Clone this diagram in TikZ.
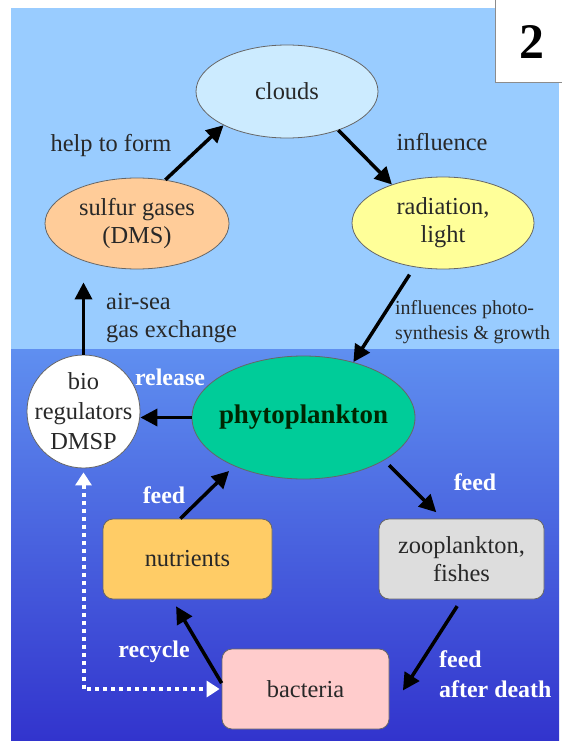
\documentclass[tikz,border=0pt]{standalone}
\usepackage{fontspec}
\setmainfont{Liberation Serif}
\usetikzlibrary{arrows.meta,shapes.geometric,calc}
\definecolor{sky}{RGB}{153,204,255}
\definecolor{seatop}{RGB}{95,143,240}
\definecolor{seabot}{RGB}{50,52,205}
\definecolor{cloudc}{RGB}{204,235,255}
\definecolor{sulfurc}{RGB}{255,204,153}
\definecolor{radc}{RGB}{255,255,153}
\definecolor{phytoc}{RGB}{0,204,153}
\definecolor{nutc}{RGB}{255,204,102}
\definecolor{zooc}{RGB}{221,221,221}
\definecolor{bacc}{RGB}{255,204,204}
\definecolor{inkc}{RGB}{40,40,40}
\begin{document}
\begin{tikzpicture}[x=1bp,y=-1bp,
  bubble/.style={ellipse,draw=black!60,line width=0.8pt,inner sep=0pt,align=center,text=inkc,font=\fontsize{24.5}{28}\selectfont},
  boxnode/.style={rectangle,rounded corners=10bp,draw=black!60,line width=0.8pt,inner sep=0pt,align=center,text=inkc,font=\fontsize{24.5}{28}\selectfont},
  lbl/.style={inner sep=0pt,text=inkc,font=\fontsize{24.5}{28}\selectfont},
  slbl/.style={inner sep=0pt,text=inkc,font=\fontsize{20}{25}\selectfont},
  wlbl/.style={inner sep=0pt,text=white,font=\bfseries\fontsize{24}{30}\selectfont},
  flow/.style={line width=3.5bp,black,-{Triangle[length=17bp,width=17bp]}},
  dots/.style={white,line width=4bp,dash pattern=on 4bp off 4bp,{Triangle[length=13bp,width=16bp]}-{Triangle[length=13bp,width=16bp]}}
]
\useasboundingbox (0,0) rectangle (562,742);
% background
\fill[white] (0,0) rectangle (562,742);
\fill[sky] (11,8) rectangle (559,349);
\shade[top color=seatop,bottom color=seabot] (11,349) rectangle (559,740);
% number box
\fill[white] (495,0) rectangle (562,82);
\draw[black!45,line width=0.8pt] (495,0) -- (495,82) -- (562,82);
\node[inner sep=0pt,font=\bfseries\fontsize{50}{50}\selectfont] (two) at (531.5,42) {2};

% nodes
\node[bubble,fill=cloudc,minimum width=182bp,minimum height=93bp] (clouds) at (287,91.5) {clouds};
\node[bubble,fill=sulfurc,minimum width=184bp,minimum height=91bp] (sulfur) at (137,223.5) {sulfur gases\\(DMS)};
\node[bubble,fill=radc,minimum width=182bp,minimum height=92bp] (rad) at (443,223) {radiation,\\light};
\node[bubble,fill=phytoc,minimum width=223bp,minimum height=123bp,inner sep=-6bp,text=black!85!green,font=\bfseries\fontsize{27}{30}\selectfont] (phyto) at (303.5,417.5) {phytoplankton};
\node[circle,draw=black!60,line width=0.8pt,fill=white,minimum size=113bp,inner sep=-8bp,align=center,text=inkc,font=\fontsize{24.5}{30}\selectfont] (bio) at (83.5,411.5) {bio\\regulators\\DMSP};
\node[boxnode,fill=nutc,minimum width=169bp,minimum height=80bp] (nutrients) at (187.5,559) {nutrients};
\node[boxnode,fill=zooc,minimum width=165bp,minimum height=80bp] (zoo) at (461.5,559) {zooplankton,\\fishes};
\node[boxnode,fill=bacc,minimum width=167bp,minimum height=80bp] (bacteria) at (305.5,689) {bacteria};

% labels
\node[lbl] (helpl) at (111,146) {help to form};
\node[lbl] (infll) at (442,142) {influence};
\node[lbl,anchor=west,align=left] (airsea) at (106,318) {air-sea\\gas exchange};
\node[slbl,anchor=west,align=left] (photo) at (395,322.5) {influences photo-\\synthesis \& growth};
\node[wlbl] (release) at (170,377) {release};
\node[wlbl] (feedl) at (164,495) {feed};
\node[wlbl] (feedr) at (475,482) {feed};
\node[wlbl] (recycle) at (154,652) {recycle};
\node[wlbl,anchor=west,align=left] (after) at (439,674) {feed\\after death};

% connectors
\draw[flow] (sulfur.57) -- (clouds.208);
\draw[flow] (clouds.323) -- (rad.143);
\draw[flow,shorten <=9bp] (rad.237) -- (phyto.48);
\draw[flow] (phyto.west) -- (phyto.west -| bio.east);
\draw[flow,shorten >=13bp] (bio.north) -- (bio.north |- sulfur.south);
\draw[flow,shorten >=7bp] (nutrients.100) -- (phyto.215);
\draw[flow,shorten <=7bp,shorten >=9bp] (phyto.332) -- (zoo.115);
\draw[flow,shorten <=8bp,shorten >=25bp] (zoo.south) -- (bacteria.345);
\draw[flow,shorten >=8bp] (bacteria.176) -- (nutrients.249);
\draw[dots,shorten <=4bp,shorten >=2bp] (bio.south) |- (bacteria.west);
\end{tikzpicture}
\end{document}
